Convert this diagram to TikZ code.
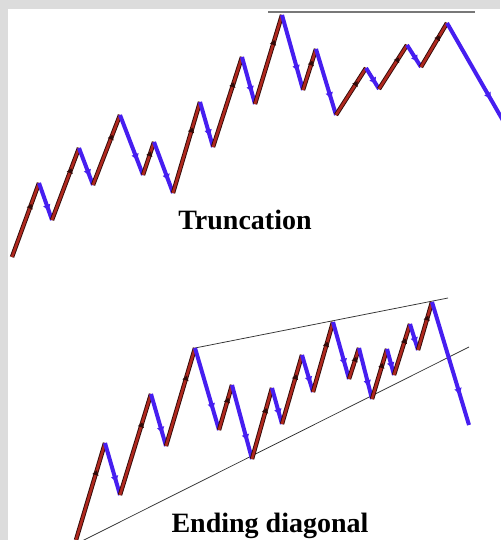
\documentclass[tikz,border=0pt]{standalone}
\usepackage{fontspec}
\setmainfont{Liberation Serif}
\usetikzlibrary{arrows.meta,decorations.markings}
\definecolor{framegrey}{RGB}{220,220,220}
\definecolor{cutgrey}{RGB}{120,120,120}
\definecolor{upred}{RGB}{175,40,30}
\definecolor{upedge}{RGB}{50,10,8}
\definecolor{downblue}{RGB}{70,30,240}
\tikzset{
  upleg/.style={draw=upedge, line width=4.4pt,
    postaction={draw=upred, line width=2.6pt},
    postaction={decorate, decoration={markings,
      mark=at position 0.72 with {\arrow[upedge]{Triangle[width=6pt,length=5pt]}}}}},
  downleg/.style={draw=downblue, line width=4pt,
    postaction={decorate, decoration={markings,
      mark=at position 0.75 with {\arrow[downblue]{Triangle[width=7pt,length=6pt]}}}}},
  trend/.style={draw=black!80, line width=0.75pt},
  title/.style={font=\bfseries\fontsize{28}{32}\selectfont, anchor=base, inner sep=0pt}
}
\begin{document}
\begin{tikzpicture}[x=1pt,y=-1pt]
  \useasboundingbox (0,0) rectangle (500,540);
  \fill[white] (0,0) rectangle (500,540);
  \fill[framegrey] (0,0) rectangle (500,9);
  \fill[framegrey] (0,0) rectangle (8,540);

  % truncation
  \foreach \n/\p in {0/{12,257},1/{39,183},2/{52,220},3/{79,148},4/{93,185},
    5/{120,115},6/{143,175},7/{154,142},8/{173,193},9/{200,102},10/{213,147},
    11/{242,57},12/{255,104},13/{282,15},14/{303,90},15/{316,49},16/{336,115},
    17/{366,68},18/{379,89},19/{407,45},20/{421,67},21/{447,23},22/{505,124}}
    \coordinate (t\n) at (\p);
  \coordinate (cutL) at (268,12);
  \coordinate (cutR) at (475,12);
  \draw[cutgrey, line width=1.3pt] (cutL) -- (cutR);
  \foreach \i [evaluate=\i as \j using int(\i+1)] in {0,...,21}{
    \ifodd\i \draw[downleg] (t\i) -- (t\j); \else \draw[upleg] (t\i) -- (t\j); \fi
  }
  \node[title] (trunc) at (245,229) {Truncation};

  % ending diagonal
  \foreach \n/\p in {0/{76,540},1/{105,443},2/{120,495},3/{151,394},4/{166,446},
    5/{195,348},6/{219,430},7/{232,385},8/{252,459},9/{272,388},10/{282,424},
    11/{302,355},12/{313,392},13/{333,322},14/{349,379},15/{359,348},16/{372,399},
    17/{387,349},18/{394,375},19/{410,324},20/{418,350},21/{432,302},22/{469,425}}
    \coordinate (e\n) at (\p);
  \coordinate (topR) at (448,298);
  \coordinate (lowL) at (80,542);
  \coordinate (lowR) at (469,347);
  \draw[trend] (e5) -- (topR);
  \draw[trend] (lowL) -- (lowR);
  \foreach \i [evaluate=\i as \j using int(\i+1)] in {0,...,21}{
    \ifodd\i \draw[downleg] (e\i) -- (e\j); \else \draw[upleg] (e\i) -- (e\j); \fi
  }
  \node[title] (ending) at (270,532) {Ending diagonal};
\end{tikzpicture}
\end{document}
